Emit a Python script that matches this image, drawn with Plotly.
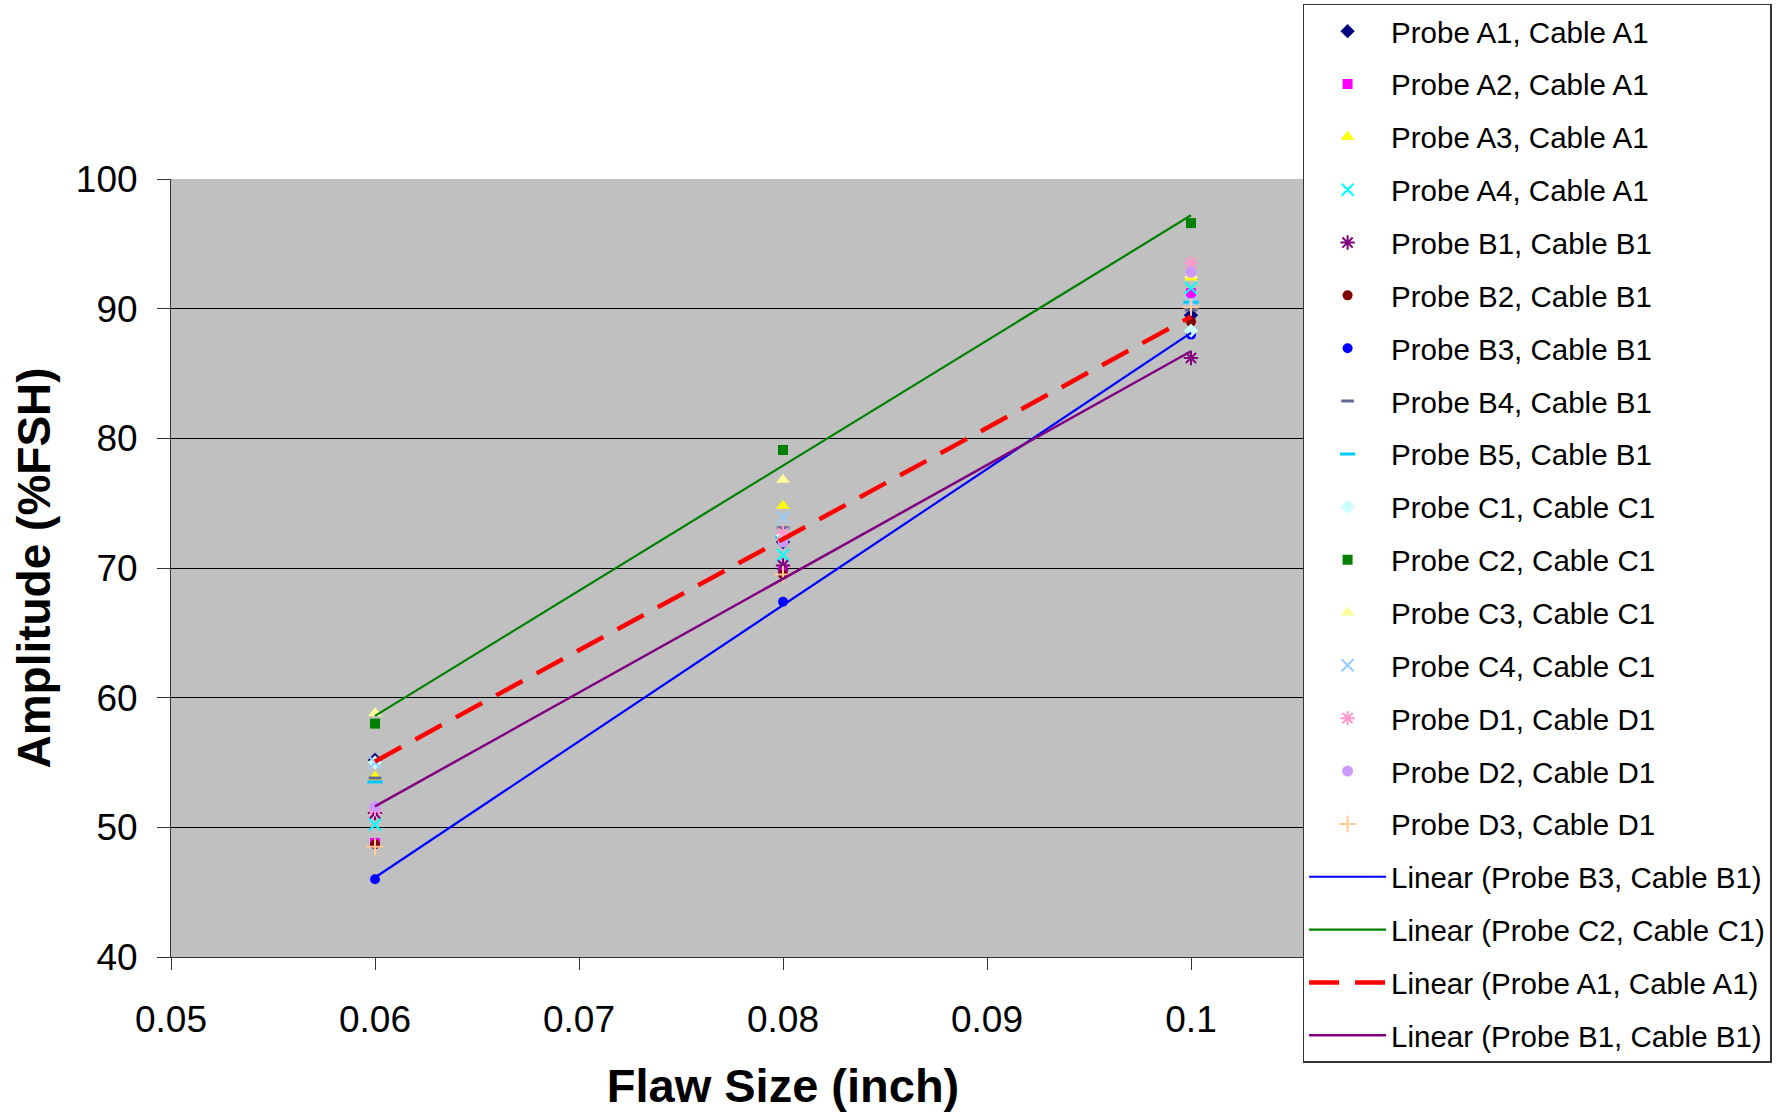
import numpy as np
import plotly.graph_objects as go

flaw_size = [0.06, 0.08, 0.1]

probe_a1 = [55.2, 72.0, 89.5]
probe_a2 = [48.8, 69.8, 91.2]
probe_a3 = [53.9, 74.8, 92.4]
probe_a4 = [50.2, 71.0, 91.6]
probe_b1 = [51.1, 70.2, 86.2]
probe_b2 = [48.7, 69.5, 89.0]
probe_b3 = [46.0, 67.4, 88.0]
probe_b4 = [53.8, 73.1, 89.9]
probe_b5 = [53.5, 72.4, 90.5]
probe_c1 = [55.0, 72.5, 88.3]
probe_c2 = [58.0, 79.1, 96.6]
probe_c3 = [58.8, 76.8, 92.6]
probe_c4 = [55.0, 73.9, 90.5]
probe_d1 = [51.4, 72.7, 93.5]
probe_d2 = [51.6, 72.0, 92.8]
probe_d3 = [48.5, 69.5, 90.1]

x_ticks = [0.05, 0.06, 0.07, 0.08, 0.09, 0.1]
x_tick_text = ["0.05", "0.06", "0.07", "0.08", "0.09", "0.1"]
y_ticks = [40, 50, 60, 70, 80, 90, 100]

series = [
    ("Probe A1, Cable A1", probe_a1, "diamond", "#000080", 11, 0),
    ("Probe A2, Cable A1", probe_a2, "square", "#FF00FF", 10, 0),
    ("Probe A3, Cable A1", probe_a3, "triangle-up", "#FFFF00", 12, 0),
    ("Probe A4, Cable A1", probe_a4, "x-thin-open", "#00FFFF", 12, 2),
    ("Probe B1, Cable B1", probe_b1, "asterisk-open", "#800080", 12, 2),
    ("Probe B2, Cable B1", probe_b2, "circle", "#800000", 10, 0),
    ("Probe B3, Cable B1", probe_b3, "circle", "#0000FF", 10, 0),
    ("Probe B4, Cable B1", probe_b4, "line-ew-open", "#666699", 9, 3),
    ("Probe B5, Cable B1", probe_b5, "line-ew-open", "#00CCFF", 11, 3),
    ("Probe C1, Cable C1", probe_c1, "diamond", "#CCFFFF", 11, 0),
    ("Probe C2, Cable C1", probe_c2, "square", "#008000", 10, 0),
    ("Probe C3, Cable C1", probe_c3, "triangle-up", "#FFFF99", 12, 0),
    ("Probe C4, Cable C1", probe_c4, "x-thin-open", "#99CCFF", 12, 2),
    ("Probe D1, Cable D1", probe_d1, "asterisk-open", "#FF99CC", 12, 2),
    ("Probe D2, Cable D1", probe_d2, "circle", "#CC99FF", 11, 0),
    ("Probe D3, Cable D1", probe_d3, "cross-thin-open", "#FFCC99", 12, 2),
]

fig = go.Figure()
for i, (name, vals, sym, col, size, lw) in enumerate(series):
    mk = dict(symbol=sym, color=col, size=size)
    if lw:
        mk["line"] = dict(color=col, width=lw)
    else:
        mk["line"] = dict(width=0)
    fig.add_trace(go.Scatter(x=flaw_size, y=vals, mode="markers", name=name,
                             marker=mk, legendgroup=f"g{i:02d}"))

trends = [
    ("Linear (Probe B3, Cable B1)", probe_b3, "#0000FF", 2.2, "solid"),
    ("Linear (Probe C2, Cable C1)", probe_c2, "#008000", 2.2, "solid"),
    ("Linear (Probe A1, Cable A1)", probe_a1, "#FF0000", 4.5, "30px,16px"),
    ("Linear (Probe B1, Cable B1)", probe_b1, "#800080", 2.5, "solid"),
]
xs = np.array(flaw_size)
for j, (name, vals, col, w, dash) in enumerate(trends):
    slope, intercept = np.polyfit(xs, np.array(vals), 1)
    xe = [xs.min(), xs.max()]
    ye = [slope * v + intercept for v in xe]
    fig.add_trace(go.Scatter(x=xe, y=ye, mode="lines", name=name,
                             line=dict(color=col, width=w, dash=dash),
                             legendgroup=f"t{j}"))

font_family = "Liberation Sans, Arial, sans-serif"

fig.update_layout(
    width=1783, height=1112,
    margin=dict(l=171, r=388, t=179, b=155, autoexpand=False),
    paper_bgcolor="white",
    plot_bgcolor="#C0C0C0",
    font=dict(family=font_family, color="black"),
    showlegend=True,
    legend=dict(
        x=0.9245, y=1.225, xanchor="left", yanchor="top",
        bgcolor="white", bordercolor="#333333", borderwidth=1.5,
        font=dict(size=29.5, family=font_family, color="black"),
        tracegroupgap=11.5, itemwidth=77,
        traceorder="grouped", maxheight=1100,
    ),
    xaxis=dict(
        range=[0.05, 0.11], tickvals=x_ticks, ticktext=x_tick_text,
        showgrid=False, zeroline=False, automargin=False,
        showline=True, linecolor="#333333", linewidth=1,
        ticks="outside", ticklen=12, tickcolor="#333333",
        tickfont=dict(size=37), ticklabelstandoff=18,
        title=dict(text="<b>Flaw Size (inch)</b>", font=dict(size=47), standoff=31),
    ),
    yaxis=dict(
        range=[40, 100], tickvals=y_ticks, automargin=False,
        showgrid=True, gridcolor="black", gridwidth=1,
        zeroline=False,
        showline=True, linecolor="#333333", linewidth=1,
        ticks="outside", ticklen=13, tickcolor="#333333",
        tickfont=dict(size=37), ticklabelstandoff=12,
        title=dict(text="<b>Amplitude (%FSH)</b>", font=dict(size=46), standoff=10),
    ),
)

fig.write_html("out.html")
